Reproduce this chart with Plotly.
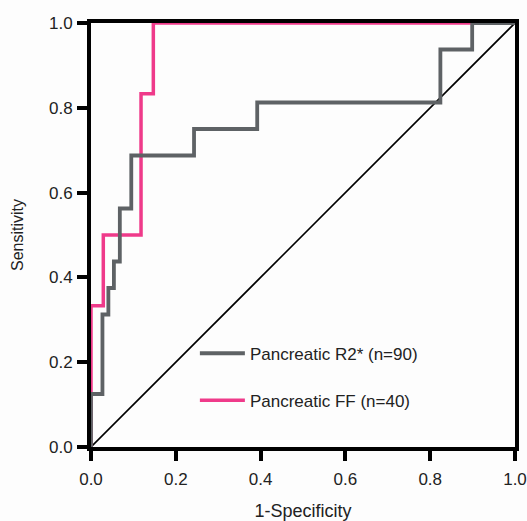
import plotly.graph_objects as go

# ROC data (1-Specificity, Sensitivity)
r2_fpr = [0.0, 0.0, 0.027, 0.027, 0.041, 0.041, 0.054, 0.054, 0.068, 0.068, 0.081, 0.081, 0.095, 0.095,
          0.243, 0.243, 0.392, 0.392, 0.824, 0.824, 0.899, 0.899, 1.0]
r2_tpr = [0.0, 0.125, 0.125, 0.3125, 0.3125, 0.375, 0.375, 0.4375, 0.4375, 0.5625, 0.5625, 0.5625, 0.5625, 0.6875,
          0.6875, 0.75, 0.75, 0.8125, 0.8125, 0.9375, 0.9375, 1.0, 1.0]
ff_fpr = [0.0, 0.0, 0.029, 0.029, 0.118, 0.118, 0.147, 0.147, 1.0]
ff_tpr = [0.0, 0.333, 0.333, 0.5, 0.5, 0.833, 0.833, 1.0, 1.0]
ref_x = [0.0, 1.0]
ref_y = [0.0, 1.0]
ticks = [0.0, 0.2, 0.4, 0.6, 0.8, 1.0]
tick_text = ["0.0", "0.2", "0.4", "0.6", "0.8", "1.0"]

GREY = "#5e6265"
PINK = "#ef3a8a"
FONT = "Liberation Sans, Arial, sans-serif"
TXT = "#222"

fig = go.Figure()
fig.add_trace(go.Scatter(x=ref_x, y=ref_y, mode="lines", line=dict(color="black", width=1.6),
                         showlegend=False, hoverinfo="skip"))
fig.add_trace(go.Scatter(x=ff_fpr, y=ff_tpr, mode="lines", name="Pancreatic FF (n=40)",
                         line=dict(color=PINK, width=3.5), legend="legend2"))
fig.add_trace(go.Scatter(x=r2_fpr, y=r2_tpr, mode="lines", name="Pancreatic R2* (n=90)",
                         line=dict(color=GREY, width=3.8), legend="legend"))

axis_common = dict(
    range=[0, 1], tickvals=ticks, ticktext=tick_text, ticks="outside", ticklen=10, tickwidth=3.5,
    tickcolor="black", showline=True, linecolor="black", linewidth=4, mirror=True,
    showgrid=False, zeroline=False, tickfont=dict(family=FONT, size=17, color=TXT),
    layer="below traces", automargin=False,
)

fig.update_layout(
    width=527, height=521,
    margin=dict(l=91, r=12, t=23, b=74),
    paper_bgcolor="#fdfdfd", plot_bgcolor="#fdfdfd",
    font=dict(family=FONT, size=17, color=TXT),
    xaxis=dict(**axis_common, ticklabelstandoff=4,
               title=dict(text="1-Specificity", font=dict(family=FONT, size=18, color=TXT), standoff=32)),
    yaxis=dict(**axis_common, ticklabelstandoff=1,
               title=dict(text="Sensitivity", font=dict(family=FONT, size=16, color=TXT), standoff=22)),
    legend=dict(x=0.245, y=0.22, xanchor="left", yanchor="middle", bgcolor="rgba(0,0,0,0)",
                font=dict(family=FONT, size=17, color=TXT), itemwidth=45),
    legend2=dict(x=0.245, y=0.109, xanchor="left", yanchor="middle", bgcolor="rgba(0,0,0,0)",
                 font=dict(family=FONT, size=17, color=TXT), itemwidth=45),
)

fig.write_html("out.html")
